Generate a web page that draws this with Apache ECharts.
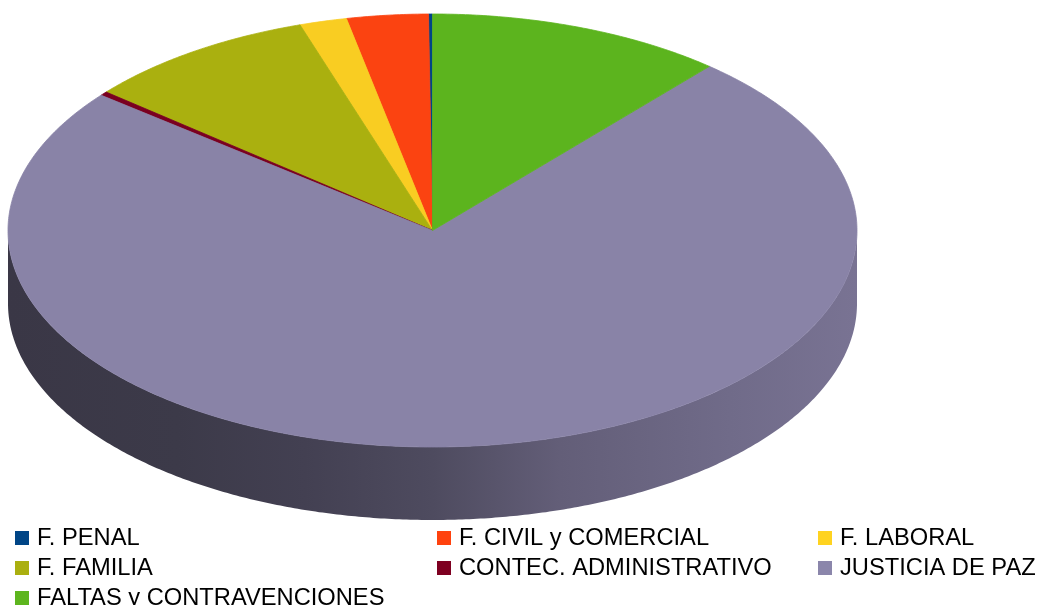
<!DOCTYPE html>
<html>
<head>
<meta charset="utf-8">
<script src="https://cdn.jsdelivr.net/npm/echarts@6/dist/echarts.min.js"></script>
<style>
html,body{margin:0;padding:0;background:#fff}
#main{width:1043px;height:605px}
</style>
</head>
<body>
<div id="main"></div>
<script>
var categorias=['F. PENAL','F. CIVIL y COMERCIAL','F. LABORAL','F. FAMILIA','CONTEC. ADMINISTRATIVO','JUSTICIA DE PAZ','FALTAS y CONTRAVENCIONES'];
var valores=[0.15,3.1,1.8,8.9,0.3,74.4,11.3];
var colores=['#004586','#fb4311','#f9cd22','#aab00f','#7a0020','#8983a7','#5cb41e'];
var coloresLeyenda=['#004586','#ff420e','#ffd320','#aaaf10','#7e0021','#8b86ab','#5db51e'];

// geometria del "pastel 3d"
var cx=432.5, cy=230.5, rx=424.5, ry=216.5, grosor=73;

var total=0;
for(var i=0;i<valores.length;++i){ total+=valores[i]; }
var inicio=[], fin=[], acum=0;
for(var i=0;i<valores.length;++i){
	inicio[i]=acum/total*360;
	acum+=valores[i];
	fin[i]=acum/total*360;
}

// angulo medido desde arriba, sentido antihorario
function punto(a,dy){
	var r=a*Math.PI/180;
	return [cx-rx*Math.sin(r), cy-ry*Math.cos(r)+(dy||0)];
}
function arco(a0,a1,dy){
	var pts=[];
	var n=Math.max(2,Math.ceil((a1-a0)/0.5));
	for(var k=0;k<=n;++k){
		pts.push(punto(a0+(a1-a0)*k/n,dy));
	}
	return pts;
}
// oscurecer un color multiplicando sus canales
function sombra(color,f){
	var p=echarts.color.parse(color);
	return 'rgb('+Math.round(p[0]*f)+','+Math.round(p[1]*f)+','+Math.round(p[2]*f)+')';
}

function dibujarPorcion(params,api){
	var i=params.seriesIndex;
	var a0=inicio[i], a1=fin[i];
	var color=colores[i];
	var hijos=[];
	var tapa=[[cx,cy]].concat(arco(a0,a1,0));
	hijos.push({
		type:'polygon',
		z2:10,
		shape:{points:tapa},
		style:{fill:color,stroke:color,lineWidth:0.8}
	});
	var s=Math.max(a0,90), e=Math.min(a1,270);
	if(e>s){
		var arriba=arco(s,e,0);
		var abajo=arco(s,e,grosor).reverse();
		hijos.push({
			type:'polygon',
			z2:1,
			shape:{points:arriba.concat(abajo)},
			style:{
				fill:new echarts.graphic.LinearGradient(0,0,1,0,[
					{offset:0,color:sombra(color,0.42)},
					{offset:0.2,color:sombra(color,0.44)},
					{offset:0.35,color:sombra(color,0.49)},
					{offset:0.5,color:sombra(color,0.57)},
					{offset:0.65,color:sombra(color,0.72)},
					{offset:0.85,color:sombra(color,0.82)},
					{offset:1,color:sombra(color,0.88)}
				]),
				stroke:null
			}
		});
	}
	return {type:'group',children:hijos};
}

var series=[];
for(var i=0;i<categorias.length;++i){
	series.push({
		name:categorias[i],
		type:'custom',
		coordinateSystem:'none',
		silent:true,
		itemStyle:{color:coloresLeyenda[i]},
		renderItem:dibujarPorcion,
		data:[[valores[i]]]
	});
}

var estiloTexto={fontFamily:'Liberation Sans',fontSize:23.7,lineHeight:23,color:'#000',padding:[0,0,0,3]};
function leyenda(x,nombres){
	return {
		orient:'vertical',
		left:x,
		top:526,
		height:120,
		padding:0,
		itemWidth:14,
		itemHeight:14,
		itemGap:6,
		icon:'rect',
		selectedMode:false,
		textStyle:estiloTexto,
		data:nombres
	};
}

var myChart=echarts.init(document.getElementById('main'));
option={
	animation:false,
	legend:[
		leyenda(15,[categorias[0],categorias[3],categorias[6]]),
		leyenda(437,[categorias[1],categorias[4]]),
		leyenda(818,[categorias[2],categorias[5]])
	],
	series:series
};
myChart.setOption(option);
</script>
</body>
</html>
